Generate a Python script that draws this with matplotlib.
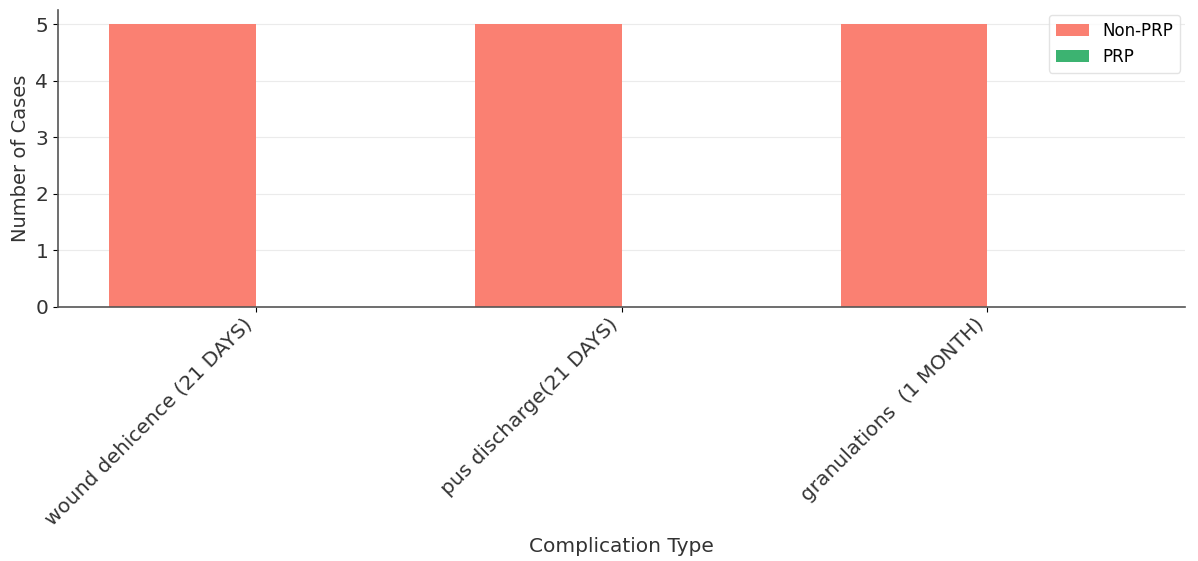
import matplotlib
matplotlib.use("Agg")
import matplotlib.pyplot as plt
import numpy as np

categories = ["wound dehicence (21 DAYS)", "pus discharge(21 DAYS)", "granulations  (1 MONTH)"]
non_prp = [5, 5, 5]
prp = [0, 0, 0]

fig = plt.figure(figsize=(11.98, 5.61), dpi=100)
ax = fig.add_axes([58 / 1198, 1 - 307 / 561, (1185 - 58) / 1198, (307 - 10) / 561])

x = np.arange(len(categories))
width = 0.4
ax.bar(x - width / 2, non_prp, width, label="Non-PRP", color="#FA8072")
ax.bar(x + width / 2, prp, width, label="PRP", color="#3CB371")

ax.set_xticks(x)
ax.set_xticklabels(categories, rotation=45, ha="right", fontsize=14.5, color="#333333")
ax.tick_params(axis="y", labelsize=14.5, labelcolor="#333333")
ax.tick_params(axis="x", pad=2)
ax.set_xlabel("Complication Type", fontsize=14.5, color="#333333", labelpad=6)
ax.set_ylabel("Number of Cases", fontsize=14, color="#333333")

ax.grid(axis="y", color="#ebebeb", linewidth=0.8)
ax.set_axisbelow(True)
for s in ["top", "right"]:
    ax.spines[s].set_visible(False)
for s in ["left", "bottom"]:
    ax.spines[s].set_color("#555555")
    ax.spines[s].set_linewidth(1.2)

ax.legend(loc="upper right", fontsize=12, frameon=True, edgecolor="#dddddd",
          borderaxespad=0.3)

fig.savefig("out.png", dpi=100)
